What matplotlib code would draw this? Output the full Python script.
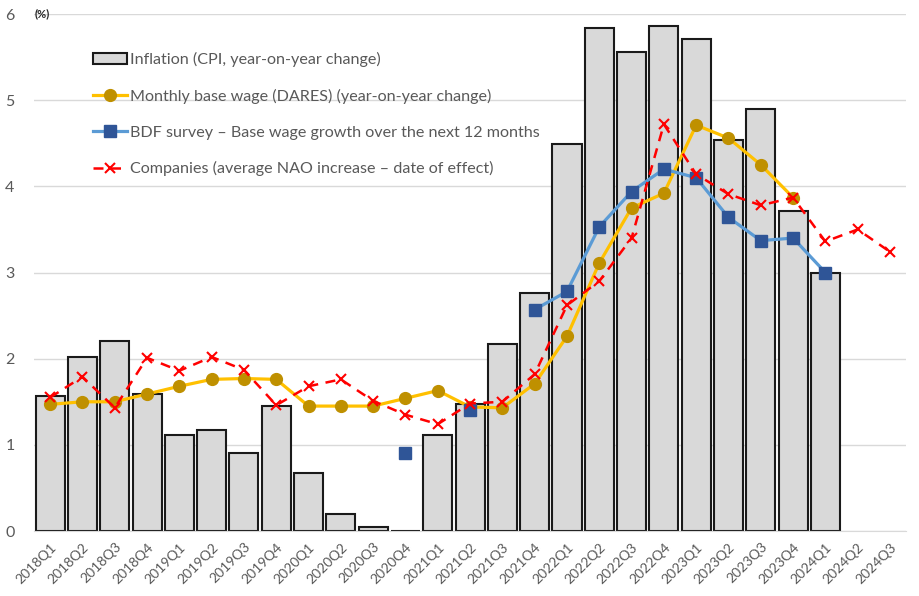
import numpy as np
import matplotlib
matplotlib.use("Agg")
import matplotlib.pyplot as plt

plt.rcParams['font.family'] = ['Lato', 'DejaVu Sans']

quarters = ["2018Q1", "2018Q2", "2018Q3", "2018Q4", "2019Q1", "2019Q2", "2019Q3", "2019Q4",
            "2020Q1", "2020Q2", "2020Q3", "2020Q4", "2021Q1", "2021Q2", "2021Q3", "2021Q4",
            "2022Q1", "2022Q2", "2022Q3", "2022Q4", "2023Q1", "2023Q2", "2023Q3", "2023Q4",
            "2024Q1", "2024Q2", "2024Q3"]
nan = np.nan
inflation = [1.57, 2.02, 2.20, 1.59, 1.11, 1.17, 0.90, 1.45,
             0.67, 0.20, 0.05, 0.00, 1.11, 1.48, 2.17, 2.76,
             4.49, 5.84, 5.56, 5.86, 5.71, 4.54, 4.90, 3.71,
             3.00, nan, nan]
dares = [1.47, 1.50, 1.50, 1.59, 1.68, 1.76, 1.77, 1.76,
         1.45, 1.45, 1.45, 1.54, 1.63, 1.44, 1.43, 1.71,
         2.26, 3.11, 3.75, 3.92, 4.71, 4.56, 4.25, 3.87,
         nan, nan, nan]
bdf = [nan, nan, nan, nan, nan, nan, nan, nan,
       nan, nan, nan, 0.90, nan, 1.40, nan, 2.57,
       2.78, 3.53, 3.94, 4.20, 4.10, 3.64, 3.37, 3.40,
       3.00, nan, nan]
companies = [1.55, 1.79, 1.43, 2.01, 1.86, 2.02, 1.87, 1.46,
             1.68, 1.76, 1.51, 1.35, 1.24, 1.48, 1.50, 1.82,
             2.62, 2.90, 3.40, 4.72, 4.14, 3.91, 3.78, 3.87,
             3.36, 3.50, 3.24]
labels = ["Inflation (CPI, year-on-year change)",
          "Monthly base wage (DARES) (year-on-year change)",
          "BDF survey \u2013 Base wage growth over the next 12 months",
          "Companies (average NAO increase \u2013 date of effect)"]

fig = plt.figure(figsize=(9.19, 5.96), dpi=100)
ax = fig.add_axes([0.037, 0.109, 0.949, 0.8675])
x = np.arange(len(quarters))

h_bar = ax.bar(x, inflation, width=0.9, color='#D9D9D9', edgecolor='#1a1a1a', linewidth=1.5,
               label=labels[0], zorder=2)
h_dar, = ax.plot(x, dares, color='#FFC000', lw=2.3, marker='o', ms=8.5, mfc='#BF9000', mec='#BF9000',
                 label=labels[1], zorder=3)
h_bdf, = ax.plot(x, bdf, color='#5B9BD5', lw=2.3, marker='s', ms=8, mfc='#2F5597', mec='#2F5597',
                 label=labels[2], zorder=4)
h_com, = ax.plot(x, companies, color='#FF0000', lw=1.8, ls=(0, (4, 3)), marker='x', ms=7, mew=1.5,
                 label=labels[3], zorder=5)

ax.set_xlim(-0.5, len(quarters) - 0.5)
ax.set_ylim(0, 6)
ax.set_yticks(range(7))
ax.grid(axis='y', color='#D9D9D9', lw=1, zorder=0)
ax.set_axisbelow(True)
for s in ['top', 'right', 'left']:
    ax.spines[s].set_visible(False)
ax.spines['bottom'].set_color('#D9D9D9')
ax.tick_params(axis='both', length=0, colors='#595959', labelsize=11.5)
ax.tick_params(axis='y', pad=14)
ax.set_xticks(x)
ax.set_xticklabels(quarters, rotation=45, ha='right', rotation_mode='anchor', fontsize=10)
ax.tick_params(axis='x', pad=7)

ax.text(0.001, 6, '(%)', transform=ax.get_yaxis_transform(), fontsize=8, fontweight='bold',
        color='#262626', va='center', ha='left')

leg = ax.legend([h_bar, h_dar, h_bdf, h_com], labels,
                loc='upper left', bbox_to_anchor=(0.051, 0.955), frameon=False, fontsize=11.6,
                handlelength=2.1, handletextpad=0.2, labelspacing=1.35, labelcolor='#595959')

fig.savefig('out.png', dpi=100)
